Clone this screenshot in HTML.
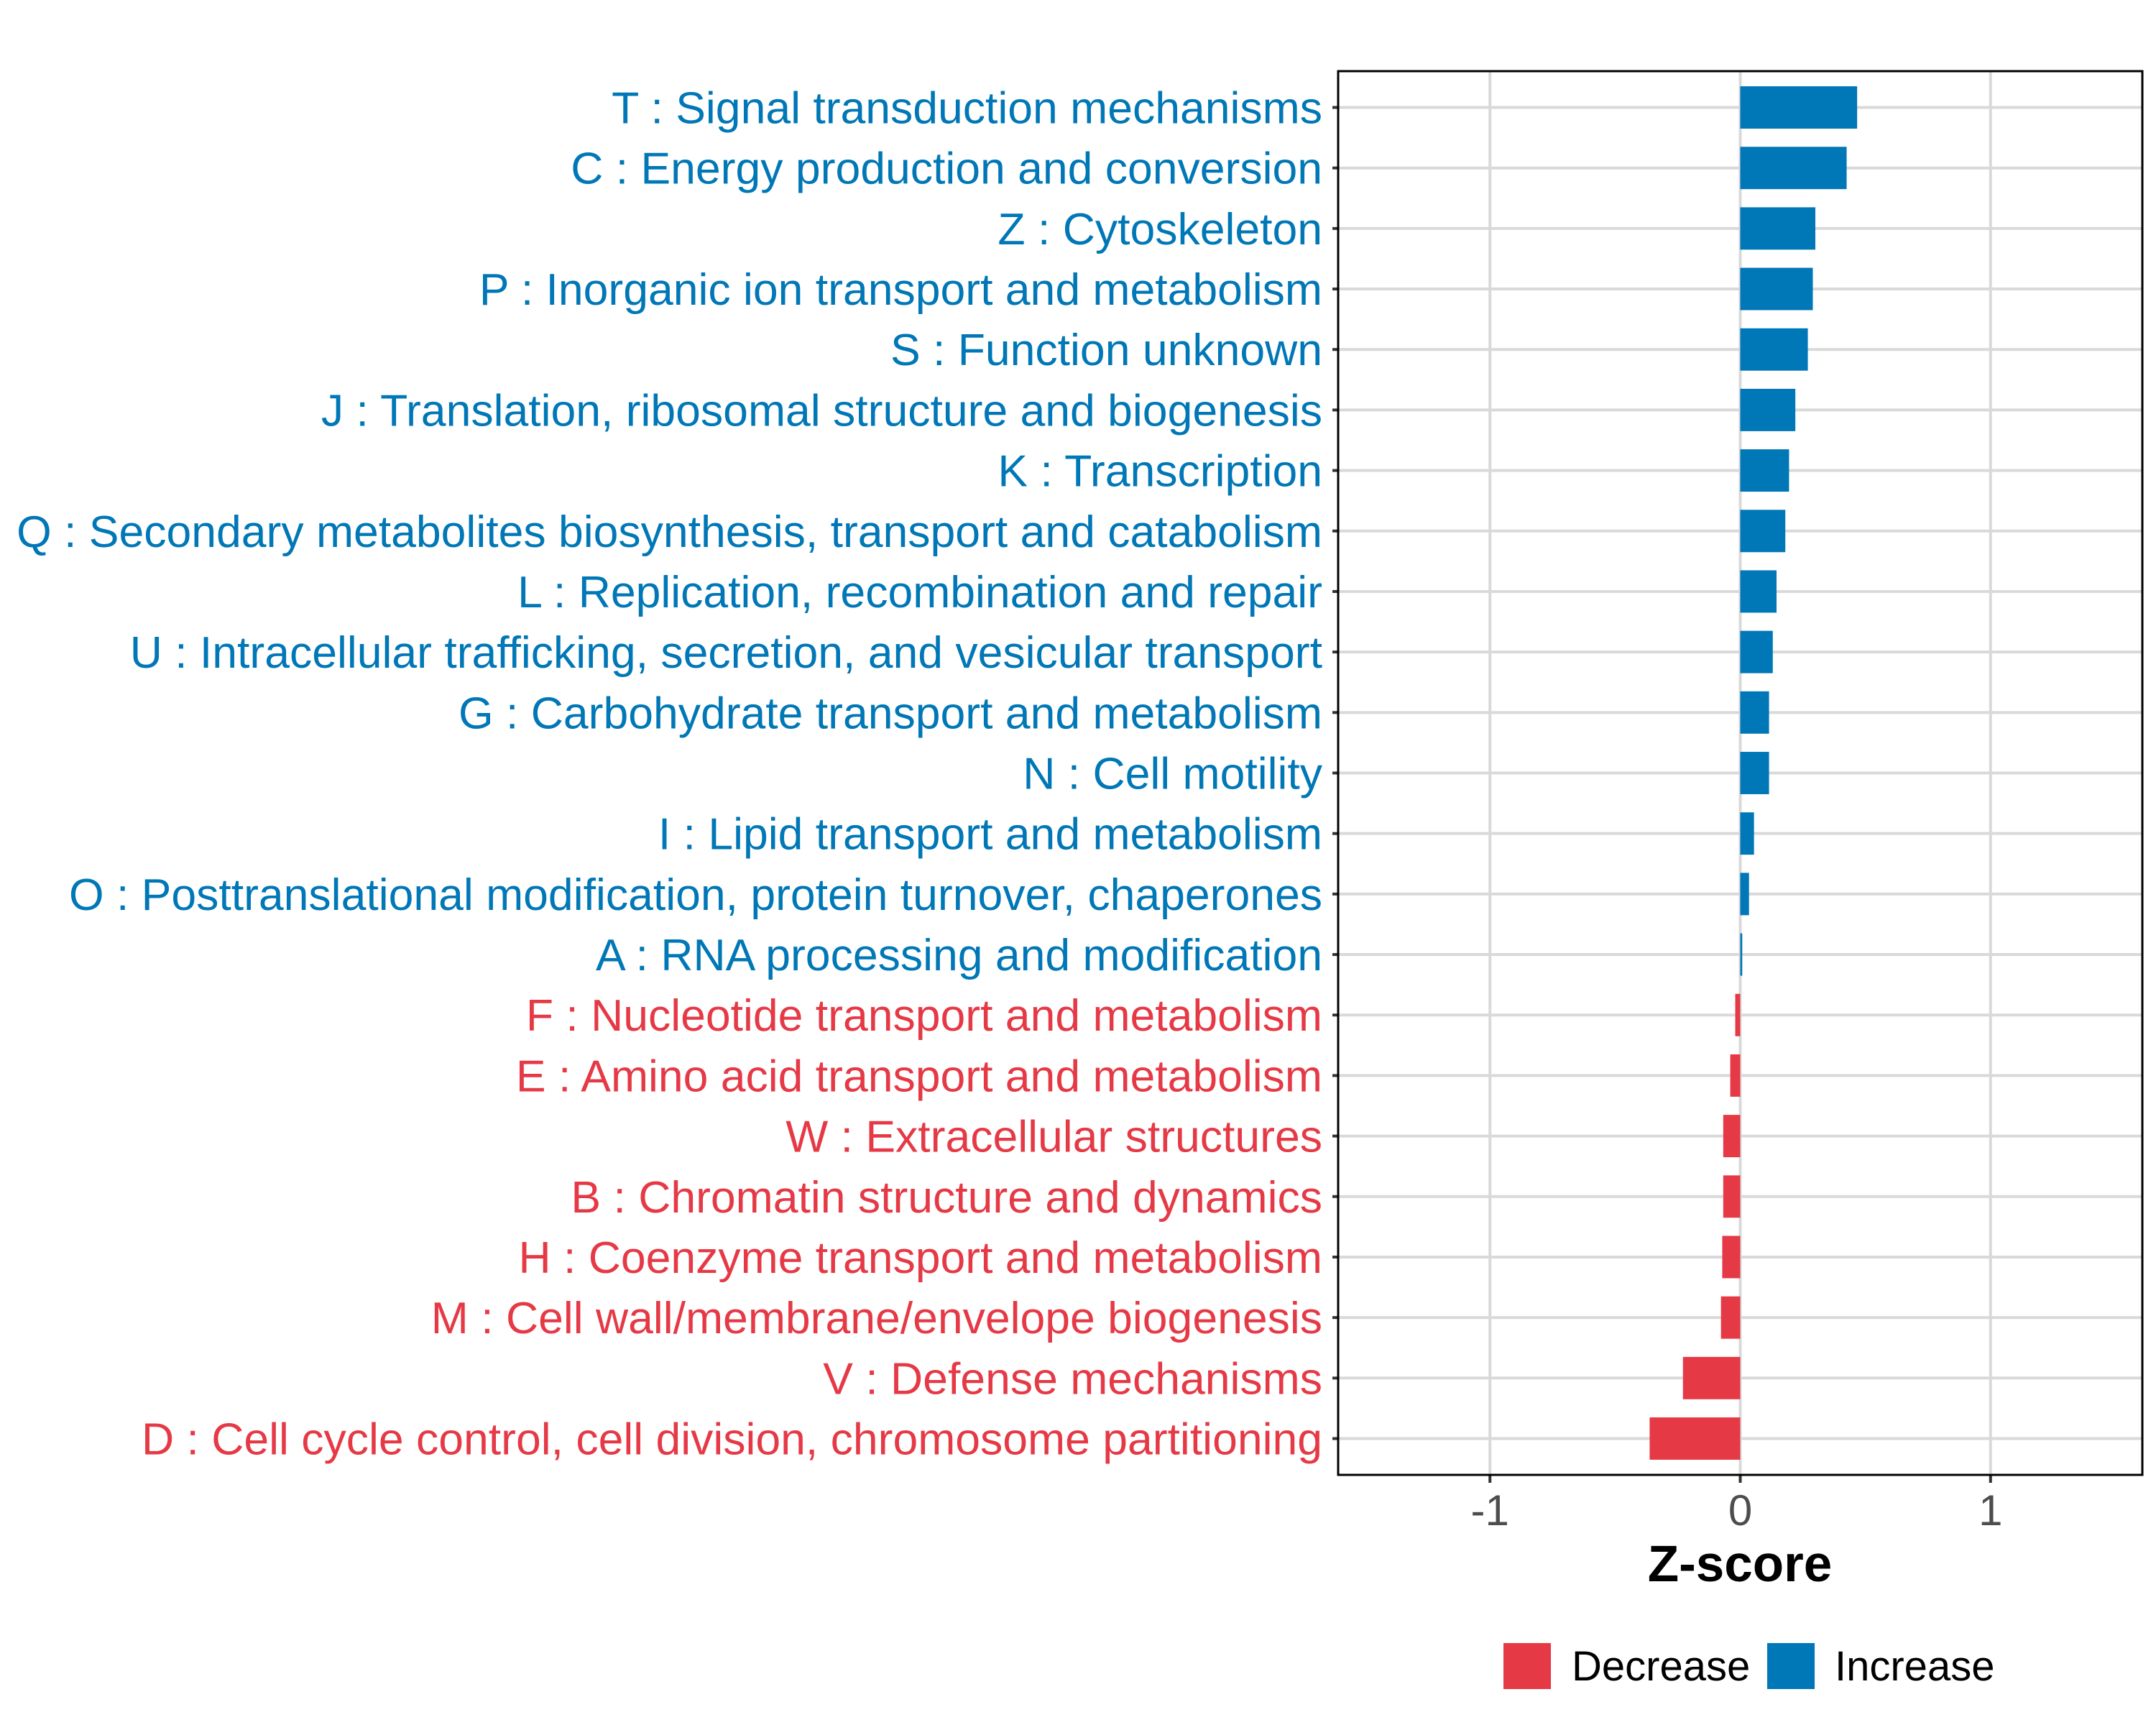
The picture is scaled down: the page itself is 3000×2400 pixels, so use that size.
<!DOCTYPE html>
<html><head><meta charset="utf-8"><style>
html,body{margin:0;padding:0;background:#fff;}
svg{display:block;font-family:"Liberation Sans",sans-serif;}
</style></head><body>
<svg id="chart" width="3000" height="2400" viewBox="0 0 3000 2400" xmlns="http://www.w3.org/2000/svg">
<rect width="3000" height="2400" fill="#fff"/>
<g id="grid"></g>
<g id="bars"></g>
<g id="ylabels"></g>
<g id="xaxis"></g>
<rect x="1862" y="99" width="1119" height="1953" fill="none" stroke="#000" stroke-width="3"/>
<text x="2421" y="2200" text-anchor="middle" font-size="71" font-weight="bold" fill="#000">Z-score</text>
<g>
<rect x="2092" y="2286" width="66" height="64" fill="#E63946"/>
<text x="2187" y="2338" font-size="58" fill="#000">Decrease</text>
<rect x="2459" y="2286" width="66" height="64" fill="#0077B6"/>
<text x="2553" y="2338" font-size="58" fill="#000">Increase</text>
</g>
</svg>
<script>
const categories = ["T : Signal transduction mechanisms","C : Energy production and conversion","Z : Cytoskeleton","P : Inorganic ion transport and metabolism","S : Function unknown","J : Translation, ribosomal structure and biogenesis","K : Transcription","Q : Secondary metabolites biosynthesis, transport and catabolism","L : Replication, recombination and repair","U : Intracellular trafficking, secretion, and vesicular transport","G : Carbohydrate transport and metabolism","N : Cell motility","I : Lipid transport and metabolism","O : Posttranslational modification, protein turnover, chaperones","A : RNA processing and modification","F : Nucleotide transport and metabolism","E : Amino acid transport and metabolism","W : Extracellular structures","B : Chromatin structure and dynamics","H : Coenzyme transport and metabolism","M : Cell wall/membrane/envelope biogenesis","V : Defense mechanisms","D : Cell cycle control, cell division, chromosome partitioning"];
const zscores = [0.467,0.425,0.30,0.29,0.27,0.22,0.195,0.18,0.145,0.13,0.115,0.115,0.055,0.035,0.008,-0.02,-0.04,-0.068,-0.068,-0.072,-0.077,-0.229,-0.362];
const xTicks = [-1,0,1];
const xTickLabels = ["-1","0","1"];

const NS="http://www.w3.org/2000/svg";
const PL=1862, PR=2981, PT=99, PB=2052;
const XMIN=-1.6065, XMAX=1.6065;
const xs = v => PL + (v - XMIN) / (XMAX - XMIN) * (PR - PL);
const n = categories.length;
const step = (PB - PT) / (n - 1 + 1.2);
const ys = i => PT + (0.6 + i) * step;
function mk(tag, attrs, parent){const e=document.createElementNS(NS,tag);for(const k in attrs)e.setAttribute(k,attrs[k]);parent.appendChild(e);return e;}
const grid=document.getElementById('grid'), bars=document.getElementById('bars'), yl=document.getElementById('ylabels'), xa=document.getElementById('xaxis');
xTicks.forEach((t,i)=>{
  const gl=mk('line',{x1:xs(t),x2:xs(t),y1:PT,y2:PB,stroke:'#d9d9d9','stroke-width':4},grid);
  
  
  const tk=mk('line',{x1:xs(t),x2:xs(t),y1:PB,y2:PB+11,stroke:'#333','stroke-width':4},xa);
  
  
  const tl=mk('text',{x:xs(t),y:2122,'text-anchor':'middle','font-size':60,fill:'#4d4d4d'},xa);
  tl.textContent=xTickLabels[i];
  
  
});
categories.forEach((c,i)=>{
  const y=ys(i), v=zscores[i], col=v>=0?'#0077B6':'#E63946';
  const gl=mk('line',{x1:PL,x2:PR,y1:y,y2:y,stroke:'#d9d9d9','stroke-width':4},grid);
  
  
  const h=step*0.7;
  const b=mk('rect',{x:Math.min(xs(0),xs(v)),y:y-h/2,width:Math.abs(xs(v)-xs(0)),height:h,fill:col},bars);
  
  
  const tk=mk('line',{x1:PL-8,x2:PL,y1:y,y2:y,stroke:'#333','stroke-width':4},yl);
  
  
  const t=mk('text',{x:PL-22,y:y+22,'text-anchor':'end','font-size':62.5,fill:col},yl);
  t.textContent=c;
  
  
});
</script>
</body></html>
